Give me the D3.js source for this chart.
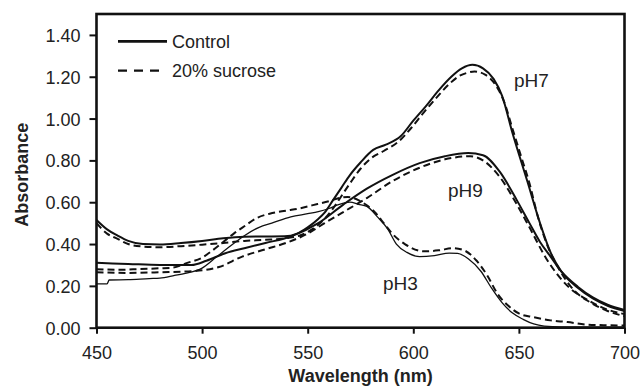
<!DOCTYPE html>
<html>
<head>
<meta charset="utf-8">
<script src="https://cdn.jsdelivr.net/npm/d3@7"></script>
<style>
    body { margin: 0; background: #fff; }
    #chart { width: 641px; height: 388px; }
    text { font-family: "Liberation Sans", Arial, sans-serif; fill: #222; }
</style>
</head>
<body>
<div id="chart"></div>
<script>
// Wavelength (nm) / absorbance pairs
const pH7ControlWl  = [450, 455, 460, 465, 472, 480, 490, 500, 510, 520, 530, 539, 545, 550, 555, 558, 562, 566, 570, 575, 581, 587, 594, 600, 606, 612, 618, 623, 628, 633, 638, 642, 647, 654, 660, 665, 670, 678, 685, 692, 700];
const pH7ControlAbs = [0.515, 0.47, 0.44, 0.415, 0.40, 0.398, 0.405, 0.415, 0.428, 0.435, 0.436, 0.437, 0.45, 0.48, 0.52, 0.55, 0.61, 0.67, 0.73, 0.79, 0.85, 0.875, 0.915, 0.99, 1.06, 1.135, 1.20, 1.24, 1.257, 1.24, 1.19, 1.11, 0.93, 0.70, 0.50, 0.36, 0.27, 0.19, 0.14, 0.105, 0.08];

const pH7SucroseWl  = [450, 455, 460, 465, 472, 480, 490, 500, 510, 520, 530, 540, 546, 552, 557, 562, 566, 570, 575, 580, 586, 593, 599, 605, 611, 617, 622, 626, 629, 634, 639, 643, 647, 651, 655, 659, 664, 669, 676, 684, 692, 700];
const pH7SucroseAbs = [0.50, 0.45, 0.425, 0.40, 0.388, 0.385, 0.39, 0.397, 0.405, 0.415, 0.42, 0.428, 0.44, 0.47, 0.51, 0.57, 0.63, 0.69, 0.76, 0.81, 0.845, 0.89, 0.955, 1.03, 1.10, 1.165, 1.205, 1.22, 1.225, 1.21, 1.16, 1.08, 0.95, 0.82, 0.69, 0.53, 0.38, 0.28, 0.18, 0.12, 0.08, 0.055];

const pH9ControlWl  = [450, 465, 480, 495, 502, 511, 520, 530, 542, 555, 567, 578, 590, 603, 615, 626, 633, 641, 649, 655, 660, 665, 670, 678, 685, 692, 700];
const pH9ControlAbs = [0.31, 0.305, 0.30, 0.30, 0.32, 0.356, 0.38, 0.405, 0.436, 0.50, 0.59, 0.665, 0.73, 0.787, 0.82, 0.835, 0.825, 0.745, 0.61, 0.50, 0.41, 0.34, 0.27, 0.195, 0.145, 0.11, 0.085];

const pH9SucroseWl  = [450, 465, 480, 495, 508, 519, 530, 541, 550, 558, 566, 578, 590, 603, 615, 627, 633, 641, 649, 655, 663, 673, 683, 691, 700];
const pH9SucroseAbs = [0.265, 0.262, 0.265, 0.27, 0.29, 0.34, 0.375, 0.41, 0.45, 0.50, 0.548, 0.62, 0.70, 0.765, 0.805, 0.82, 0.80, 0.72, 0.59, 0.48, 0.33, 0.20, 0.13, 0.09, 0.065];

const pH3ControlWl  = [450, 455, 456, 465, 475, 480, 487, 492, 500, 507, 512, 520, 527, 533, 542, 550, 555, 560, 565, 570, 574, 578, 583, 588, 592, 597, 603, 610, 617, 621, 626, 632, 637, 642, 647, 652, 657, 662, 670, 700];
const pH3ControlAbs = [0.21, 0.21, 0.228, 0.23, 0.235, 0.237, 0.25, 0.26, 0.285, 0.34, 0.38, 0.44, 0.48, 0.50, 0.53, 0.545, 0.555, 0.57, 0.59, 0.60, 0.59, 0.58, 0.53, 0.47, 0.40, 0.36, 0.34, 0.345, 0.357, 0.355, 0.33, 0.27, 0.19, 0.12, 0.07, 0.04, 0.018, 0.008, 0.004, 0.003];

const pH3SucroseWl  = [450, 460, 470, 480, 486, 493, 500, 505, 510, 515, 520, 526, 532, 540, 546, 552, 560, 565, 569, 574, 578, 582, 586, 590, 596, 605, 612, 619, 624, 630, 635, 640, 645, 650, 657, 665, 673, 682, 690, 700];
const pH3SucroseAbs = [0.28, 0.277, 0.28, 0.284, 0.287, 0.31, 0.335, 0.37, 0.41, 0.45, 0.485, 0.525, 0.545, 0.56, 0.57, 0.585, 0.605, 0.62, 0.625, 0.61, 0.585, 0.55, 0.50, 0.45, 0.40, 0.365, 0.37, 0.38, 0.37, 0.32, 0.25, 0.16, 0.105, 0.068, 0.05, 0.035, 0.027, 0.015, 0.012, 0.01];

const xTicks = [450, 500, 550, 600, 650, 700];
const yTicks = [0, 0.2, 0.4, 0.6, 0.8, 1.0, 1.2, 1.4];

const seriesNames = ["Control", "20% sucrose"];

const curveLabels = ["pH7", "pH9", "pH3"];
const curveLabelWl = [647.7, 616.4, 585.6];
const curveLabelAbs = [1.15, 0.625, 0.18];

function pairUp(wl, abs) {
    return wl.map((w, i) => ({wl: w, abs: abs[i]}));
}

class SpectrumChart {
    constructor(element) {
        this.element = element;
        this.series = [
            {values: pairUp(pH7ControlWl, pH7ControlAbs), dashed: false, width: 2},
            {values: pairUp(pH7SucroseWl, pH7SucroseAbs), dashed: true, width: 2},
            {values: pairUp(pH9ControlWl, pH9ControlAbs), dashed: false, width: 2},
            {values: pairUp(pH9SucroseWl, pH9SucroseAbs), dashed: true, width: 2},
            {values: pairUp(pH3ControlWl, pH3ControlAbs), dashed: false, width: 1.3},
            {values: pairUp(pH3SucroseWl, pH3SucroseAbs), dashed: true, width: 2}
        ];
        this.initVis();
    }

    initVis() {
        const vis = this;

        vis.margin = {top: 14, right: 16.5, bottom: 60.3, left: 96.5};
        vis.width = 641 - vis.margin.left - vis.margin.right;
        vis.height = 388 - vis.margin.top - vis.margin.bottom;

        vis.svg = d3.select("#" + vis.element)
            .append("svg")
            .attr("width", 641)
            .attr("height", 388)
            .append("g")
            .attr("transform", `translate(${vis.margin.left}, ${vis.margin.top})`);

        vis.x = d3.scaleLinear().domain([450, 700]).range([0, vis.width]);
        vis.y = d3.scaleLinear().domain([0, 1.5]).range([vis.height, 0]);

        vis.line = d3.line()
            .x(d => vis.x(d.wl))
            .y(d => vis.y(d.abs))
            .curve(d3.curveMonotoneX);

        vis.updateVis();
    }

    updateVis() {
        const vis = this;

        // Axes
        const xAxis = d3.axisBottom(vis.x).tickValues(xTicks).tickSize(6).tickSizeOuter(0).tickFormat(d3.format("d"));
        const yAxis = d3.axisLeft(vis.y).tickValues(yTicks).tickSize(7).tickSizeOuter(0).tickFormat(d3.format(".2f"));

        const gx = vis.svg.append("g")
            .attr("transform", `translate(0, ${vis.height})`)
            .call(xAxis);
        const gy = vis.svg.append("g").call(yAxis);

        [gx, gy].forEach(g => {
            g.select(".domain").remove();
            g.selectAll(".tick line").attr("stroke", "#111").attr("stroke-width", 2);
            g.selectAll(".tick text")
                .attr("font-size", "18px")
                .attr("fill", "#222")
                .attr("font-family", "'Liberation Sans', Arial, sans-serif");
        });
        gx.selectAll(".tick text").attr("dy", "1.25em");
        gy.selectAll(".tick text").attr("x", -16).attr("dy", "0.36em");

        // Frame around the plot
        vis.svg.append("rect")
            .attr("width", vis.width)
            .attr("height", vis.height)
            .attr("fill", "none")
            .attr("stroke", "#111")
            .attr("stroke-width", 2.6);

        // Curves
        vis.svg.selectAll(".curve")
            .data(vis.series)
            .enter()
            .append("path")
            .attr("class", "curve")
            .attr("d", d => vis.line(d.values))
            .attr("fill", "none")
            .attr("stroke", "#111")
            .attr("stroke-width", d => d.width)
            .attr("stroke-dasharray", d => d.dashed ? "7,4" : null);

        // Curve labels
        vis.svg.selectAll(".ph-label")
            .data(curveLabels)
            .enter()
            .append("text")
            .attr("class", "ph-label")
            .attr("x", (d, i) => vis.x(curveLabelWl[i]))
            .attr("y", (d, i) => vis.y(curveLabelAbs[i]))
            .attr("font-size", "19px")
            .text(d => d);

        // Legend
        const legend = vis.svg.selectAll(".legend")
            .data(seriesNames)
            .enter()
            .append("g")
            .attr("class", "legend")
            .attr("transform", (d, i) => `translate(21.5, ${27.3 + i * 29.4})`);

        legend.append("line")
            .attr("x1", 0)
            .attr("x2", (d, i) => i === 0 ? 49 : 44)
            .attr("stroke", "#111")
            .attr("stroke-width", (d, i) => i === 0 ? 2.8 : 2.2)
            .attr("stroke-dasharray", (d, i) => i === 0 ? null : "9,7");

        legend.append("text")
            .attr("x", 54)
            .attr("dy", "0.36em")
            .attr("font-size", "18px")
            .text(d => d);

        // Axis titles
        vis.svg.append("text")
            .attr("x", vis.width / 2)
            .attr("y", vis.height + 54)
            .attr("text-anchor", "middle")
            .attr("font-size", "18px")
            .attr("font-weight", "bold")
            .text("Wavelength (nm)");

        vis.svg.append("text")
            .attr("transform", `translate(${-69}, ${vis.height / 2 + 4}) rotate(-90)`)
            .attr("text-anchor", "middle")
            .attr("font-size", "18px")
            .attr("font-weight", "bold")
            .text("Absorbance");
    }
}

new SpectrumChart("chart");
</script>
</body>
</html>
